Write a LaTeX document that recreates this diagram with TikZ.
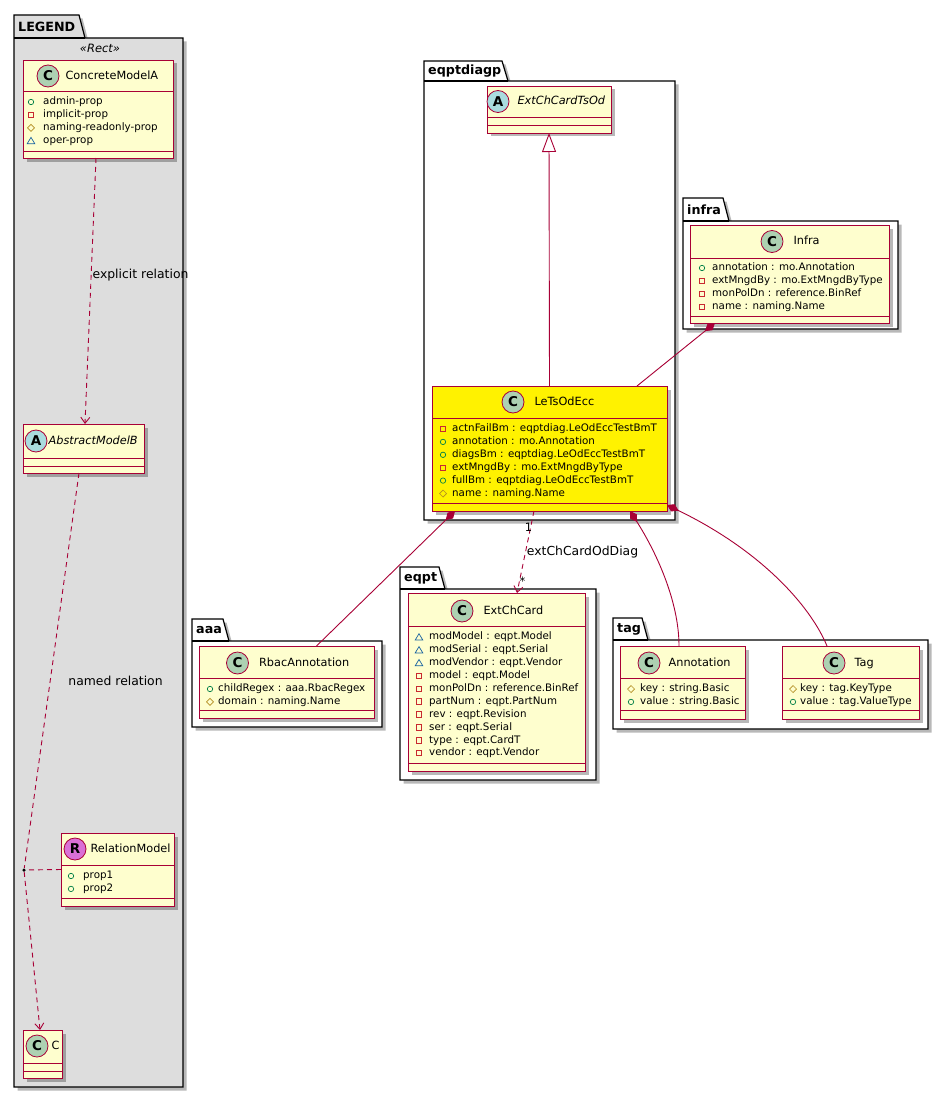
\documentclass[tikz,border=0pt]{standalone}
\usepackage{fontspec}
\setmainfont{DejaVu Sans}
\usetikzlibrary{positioning,arrows.meta,shadows}

\definecolor{classborder}{HTML}{A80036}
\definecolor{classfill}{HTML}{FEFECE}
\definecolor{spotC}{HTML}{ADD1B2}
\definecolor{spotA}{HTML}{A9DCDF}
\definecolor{spotR}{HTML}{DA70D6}
\definecolor{legendgrey}{HTML}{DDDDDD}
\definecolor{pubgreen}{HTML}{038048}
\definecolor{privred}{HTML}{C82930}
\definecolor{protbrown}{HTML}{B38D22}
\definecolor{pkgblue}{HTML}{1963A0}

\tikzset{
  boxshadow/.style={drop shadow={shadow xshift=3.5pt, shadow yshift=-3.5pt, opacity=0.28, fill=black}},
  classbox/.style={draw=classborder, fill=classfill, line width=0.9pt, inner sep=0pt, outer sep=0pt, boxshadow},
  classline/.style={draw=classborder, line width=0.9pt},
  spot/.style={circle, draw=classborder, line width=0.8pt, minimum size=22pt, inner sep=0pt,
    font=\fontsize{13.5}{14}\selectfont\bfseries},
  classname/.style={inner sep=0pt, font=\fontsize{11.3}{13}\selectfont, text height=8.5pt, text depth=2.2pt},
  abstractname/.style={inner sep=0pt, font=\fontsize{11.3}{13}\selectfont\itshape, text height=8.5pt, text depth=2.2pt},
  member/.style={anchor=west, inner sep=0pt, font=\fontsize{10.3}{12}\selectfont, text height=7.6pt, text depth=2pt},
  package/.style={draw=black, line width=1.2pt, line join=miter},
  pkglabel/.style={anchor=west, inner sep=0pt, font=\fontsize{12.7}{14}\selectfont\bfseries},
  stereo/.style={inner sep=0pt, font=\fontsize{11.5}{13}\selectfont\itshape},
  relline/.style={draw=classborder, line width=0.9pt},
  reldash/.style={relline, dash pattern=on 5pt off 4pt},
  opentip/.style={-{Straight Barb[length=6pt, width=9pt]}},
  edgelabel/.style={inner sep=1pt, font=\fontsize{12.4}{14}\selectfont, text height=9pt, text depth=2.5pt},
  mult/.style={inner sep=0pt, font=\fontsize{11.5}{13}\selectfont},
  junction/.style={circle, fill=black, inner sep=0pt, minimum size=3.5pt},
}

% visibility icons: x, y
\newcommand{\vispub}[2]{\draw[pubgreen, line width=0.7pt] (#1,#2) circle (2.7pt);}
\newcommand{\vispriv}[2]{\draw[privred, line width=0.7pt] (#1-2.7,#2-2.7) rectangle (#1+2.7,#2+2.7);}
\newcommand{\visprot}[2]{\draw[protbrown, line width=0.7pt] (#1,#2-3.5) -- (#1+3.5,#2) -- (#1,#2+3.5) -- (#1-3.5,#2) -- cycle;}
\newcommand{\vispkg}[2]{\draw[pkgblue, line width=0.7pt] (#1,#2-3.3) -- (#1+3.8,#2+3) -- (#1-3.8,#2+3) -- cycle;}

% [style] name, x1, y1, x2, y2, header bottom, separator
\newcommand{\umlclass}[8][]{
  \node[classbox, #1, minimum width={(#5-#3)*1pt}, minimum height={(#6-#4)*1pt}]
    (#2) at ({(#3+#5)/2},{(#4+#6)/2}) {};
  \draw[classline] (#3,#7) -- (#5,#7);
  \draw[classline] (#3,#8) -- (#5,#8);
}
% [name style] id, letter, spot colour, spot centre, gap, text
\newcommand{\classhead}[7][classname]{
  \node[spot, fill=#4] (#2-spot) at (#5) {#3};
  \node[#1, right=#6pt of #2-spot] (#2-name) {#7};
}
% id, icon x, text x, first row y, list
\newcommand{\members}[5]{
  \foreach [count=\i] \mvis/\mtxt in {#5} {
    \pgfmathsetmacro{\yy}{#4+(\i-1)*12.9}
    \csname vis\mvis\endcsname{#2}{\yy}
    \node[member] (#1-m\i) at (#3,\yy) {\mtxt};
  }
}
% fill, label name, x0, tab top, tab right, box top, x1, y1, text
\newcommand{\umlpackage}[9]{
  \draw[package, fill=#1, boxshadow] (#3,#4) -- (#5,#4) -- (#5+6,#6) -- (#7,#6) -- (#7,#8) -- (#3,#8) -- cycle;
  \draw[package] (#3,#6) -- (#5+6,#6);
  \node[pkglabel] (#2) at (#3+4,{(#4+#6)/2}) {#9};
}

\begin{document}
\begin{tikzpicture}[x=1pt,y=-1pt]
  \useasboundingbox[fill=white] (0,0) rectangle (948,1097);

  % packages
  \umlpackage{legendgrey}{pk-legend}{14}{15}{79}{38}{183}{1087}{LEGEND}
  \umlpackage{white}{pk-eqptdiagp}{424}{61}{502}{81}{675}{520}{eqptdiagp}
  \umlpackage{white}{pk-infra}{683}{198}{723}{221}{898}{329}{infra}
  \umlpackage{white}{pk-aaa}{192}{619}{223}{641}{382}{727}{aaa}
  \umlpackage{white}{pk-eqpt}{400}{567}{439}{589}{596}{780}{eqpt}
  \umlpackage{white}{pk-tag}{613}{618}{642}{640}{928}{729}{tag}
  \node[stereo] (legend-stereo) at (100,48) {«Rect»};

  % legend classes
  \umlclass{cma}{23}{60}{173}{158}{91}{151}
  \classhead{cma}{C}{spotC}{48,76}{6}{ConcreteModelA}
  \members{cma}{31}{43}{102}{pub/admin-prop, priv/implicit-prop, prot/naming-readonly-prop, pkg/oper-prop}

  \umlclass{amb}{23}{424}{144}{473}{458}{466}
  \classhead[abstractname]{amb}{A}{spotA}{36,441}{1}{AbstractModelB}

  \umlclass{rm}{61}{833}{174}{906}{865}{898}
  \classhead{rm}{R}{spotR}{75,849}{4}{RelationModel}
  \members{rm}{71}{83}{876}{pub/prop1, pub/prop2}

  \umlclass{cc}{23}{1030}{62}{1078}{1063}{1071}
  \classhead{cc}{C}{spotC}{37,1046}{3}{C}

  % model classes
  \umlclass{tsod}{487}{86}{611}{133}{117}{125}
  \classhead[abstractname]{tsod}{A}{spotA}{498,101.5}{8}{ExtChCardTsOd}

  \umlclass[fill=yellow]{lets}{432}{386}{667}{511}{418}{503}
  \classhead{lets}{C}{spotC}{513,402}{10}{LeTsOdEcc}
  \members{lets}{443}{452}{429}{priv/actnFailBm : eqptdiag.LeOdEccTestBmT,
    pub/annotation : mo.Annotation, pub/diagsBm : eqptdiag.LeOdEccTestBmT,
    priv/extMngdBy : mo.ExtMngdByType, pub/fullBm : eqptdiag.LeOdEccTestBmT,
    prot/name : naming.Name}

  \umlclass{infra}{690}{225}{889}{323}{258}{316}
  \classhead{infra}{C}{spotC}{772,241.5}{10}{Infra}
  \members{infra}{702}{712}{268}{pub/annotation : mo.Annotation,
    priv/extMngdBy : mo.ExtMngdByType, priv/monPolDn : reference.BinRef,
    priv/name : naming.Name}

  \umlclass{rbac}{199}{646}{374}{718}{678}{710}
  \classhead{rbac}{C}{spotC}{237.5,663}{10}{RbacAnnotation}
  \members{rbac}{210}{218}{689}{pub/childRegex : aaa.RbacRegex, prot/domain : naming.Name}

  \umlclass{ecc}{408}{593}{585}{771}{626}{763}
  \classhead{ecc}{C}{spotC}{462,611}{10}{ExtChCard}
  \members{ecc}{419}{429}{637}{pkg/modModel : eqpt.Model, pkg/modSerial : eqpt.Serial,
    pkg/modVendor : eqpt.Vendor, priv/model : eqpt.Model,
    priv/monPolDn : reference.BinRef, priv/partNum : eqpt.PartNum,
    priv/rev : eqpt.Revision, priv/ser : eqpt.Serial,
    priv/type : eqpt.CardT, priv/vendor : eqpt.Vendor}

  \umlclass{annot}{620}{646}{745}{719}{678}{710}
  \classhead{annot}{C}{spotC}{649,663}{8}{Annotation}
  \members{annot}{631}{640}{689}{prot/key : string.Basic, pub/value : string.Basic}

  \umlclass{tag}{782}{646}{919}{719}{678}{710}
  \classhead{tag}{C}{spotC}{834,663}{9}{Tag}
  \members{tag}{793}{800}{689}{prot/key : tag.KeyType, pub/value : tag.ValueType}

  % legend relations
  \node[junction] (rel-dot) at (24,870) {};
  \draw[reldash, opentip] ([xshift=-2pt]cma.south) --
    node[edgelabel, right, pos=0.44] (lbl-explicit) {explicit relation} ([xshift=1.5pt]amb.north);
  \draw[reldash] ([xshift=-4.5pt]amb.south) --
    node[edgelabel, right, pos=0.53, xshift=17pt] (lbl-named) {named relation} (rel-dot);
  \draw[reldash, opentip] (rel-dot) -- ([xshift=-2.5pt]cc.north);
  \draw[reldash] (rm.west) -- (rel-dot);

  % model relations
  \draw[relline, {Triangle[open, length=19pt, width=14pt]}-] (tsod.south) -- (lets.north);
  \draw[relline, {Diamond[length=13pt, width=8pt]}-] ([xshift=-74.5pt]infra.south) -- ([xshift=87.5pt]lets.north);
  \draw[relline, {Diamond[length=13pt, width=8pt]}-] ([xshift=-94.5pt]lets.south) -- ([xshift=30pt]rbac.north);
  \draw[relline, {Diamond[length=13pt, width=8pt]}-] ([xshift=80.5pt]lets.south)
    .. controls (655,550) and (679,600) .. ([xshift=-3.5pt]annot.north);
  \draw[relline, {Diamond[length=13pt, width=8pt]}-] ([yshift=6pt]lets.south east)
    .. controls (760,550) and (810,605) .. ([xshift=-23.5pt]tag.north);
  \draw[reldash, opentip] ([xshift=-15.5pt]lets.south) --
    node[mult, pos=0.2, xshift=-2pt] (mult-one) {1}
    node[edgelabel, right, pos=0.5] (lbl-diag) {extChCardOdDiag}
    node[mult, pos=0.86, xshift=3pt] (mult-many) {*} ([xshift=20.5pt]ecc.north);
\end{tikzpicture}
\end{document}
